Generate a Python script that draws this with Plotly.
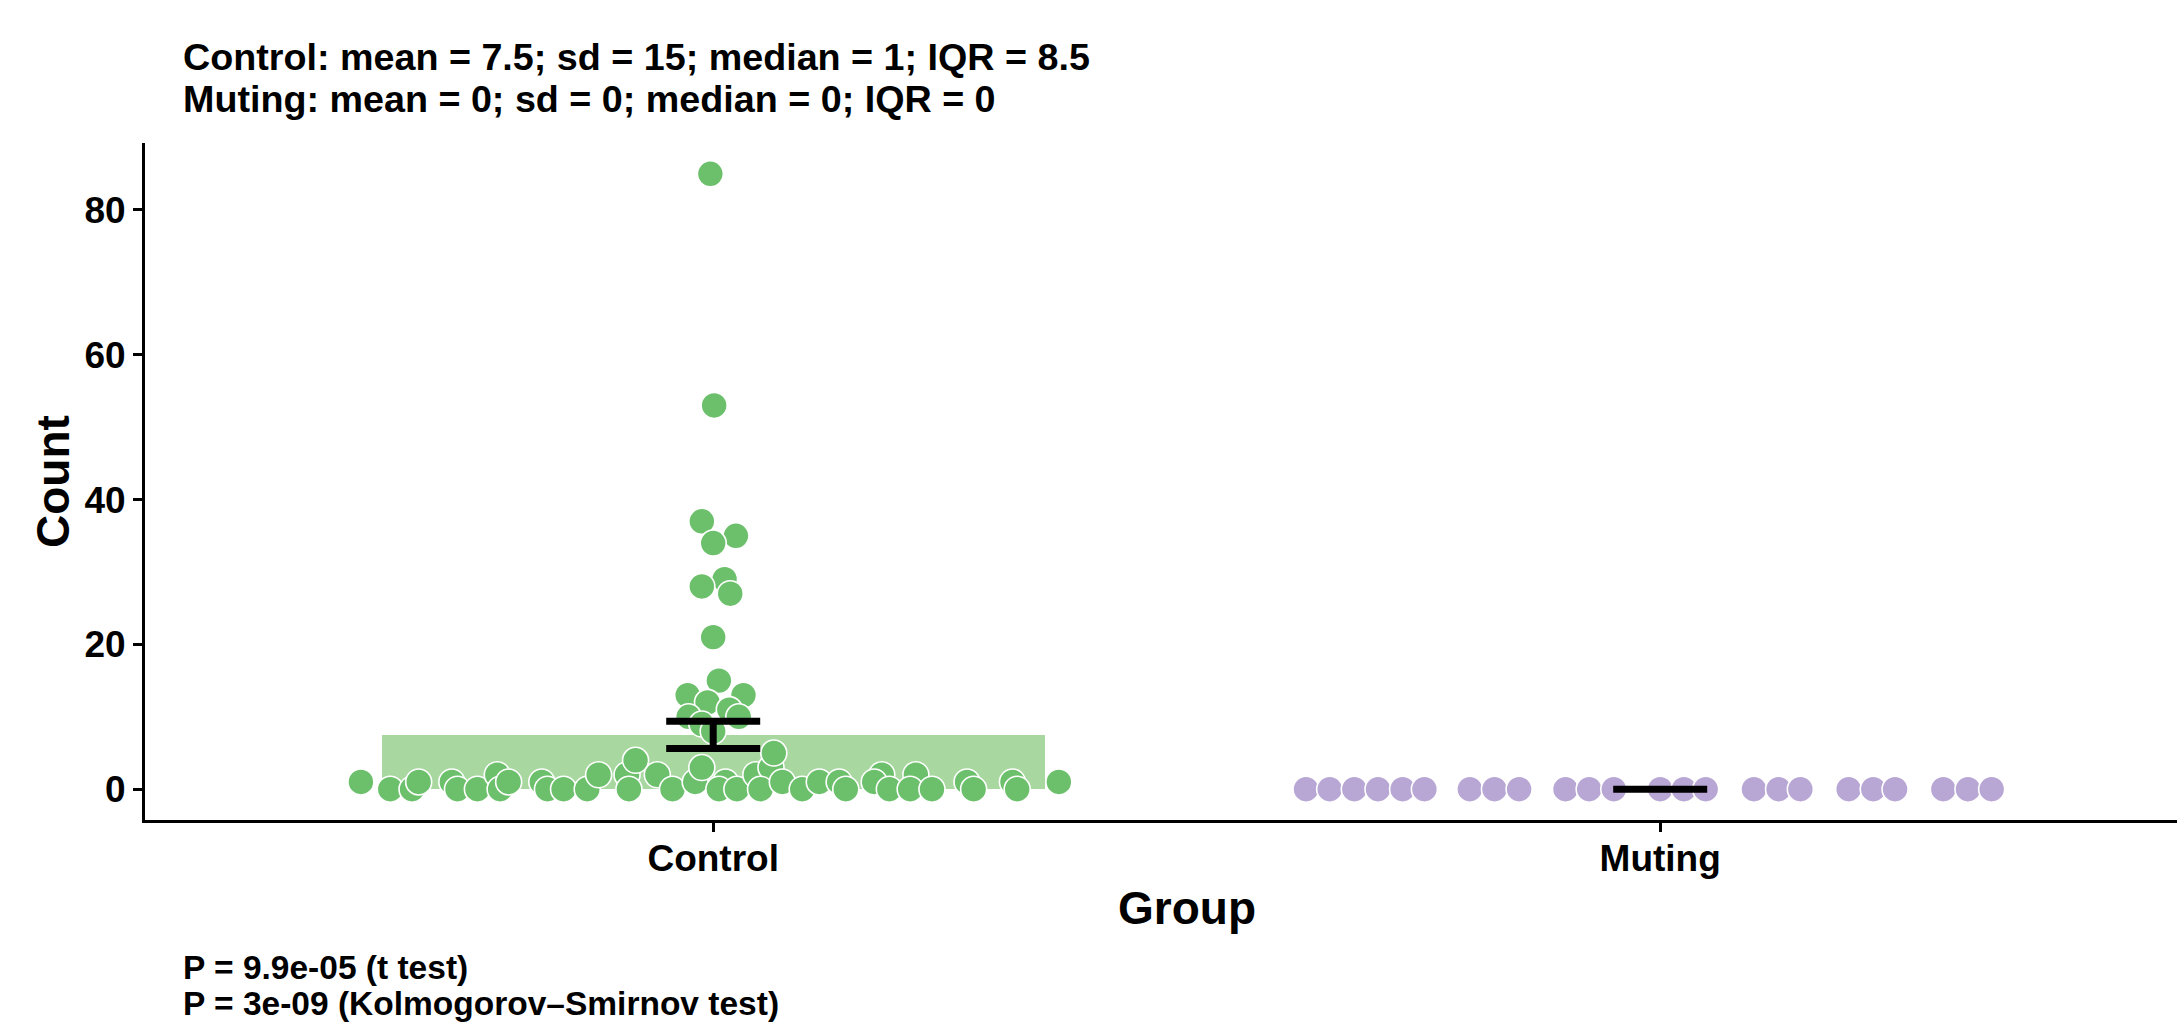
import plotly.graph_objects as go

# ---------------- data ----------------
categories = ["Control", "Muting"]

control_values = [
    85, 53, 37, 35, 34, 29, 28, 27, 21, 15, 13, 13, 12, 11, 10, 10, 9, 8,
    1, 0, 0, 1, 1, 0, 0, 2, 0, 1, 1, 0, 0, 0, 2,
    2, 4, 0, 2, 0, 1, 3, 1, 0, 0, 2, 3, 5, 0, 1, 0, 1, 1,
    0, 2, 1, 0, 2, 0, 0, 1, 0, 1, 0, 1,
]
control_jitter = [
    -0.003, 0.001, -0.012, 0.024, 0.000, 0.012, -0.012, 0.018, 0.000, 0.006,
    -0.027, 0.032, -0.006, 0.017, -0.026, 0.027, -0.012, 0.000,
    -0.372, -0.341, -0.318, -0.311, -0.276, -0.270, -0.249, -0.228, -0.225,
    -0.216, -0.181, -0.175, -0.158, -0.133, -0.121,
    -0.091, -0.082, -0.089, -0.059, -0.043, -0.019, -0.012, 0.013, 0.006,
    0.025, 0.045, 0.061, 0.064, 0.050, 0.073, 0.094, 0.112, 0.133,
    0.140, 0.178, 0.170, 0.186, 0.214, 0.208, 0.231, 0.268, 0.275, 0.316,
    0.321, 0.365,
]

muting_values = [0, 0, 0, 0, 0, 0, 0, 0, 0, 0, 0, 0,
                 0, 0, 0, 0, 0, 0, 0, 0, 0, 0, 0, 0]
muting_jitter = [
    -0.374, -0.349, -0.323, -0.298, -0.272, -0.249,
    -0.201, -0.175, -0.149,
    -0.100, -0.075, -0.049,
    0.000, 0.025, 0.048,
    0.099, 0.125, 0.148,
    0.199, 0.225, 0.248,
    0.299, 0.325, 0.350,
]

group_means = [7.5, 0]
group_sem = [1.89, 0]

y_ticks = [0, 20, 40, 60, 80]

title_lines = [
    "Control: mean = 7.5; sd = 15; median = 1; IQR = 8.5",
    "Muting: mean = 0; sd = 0; median = 0; IQR = 0",
]
footer_lines = [
    "P = 9.9e-05 (t test)",
    "P = 3e-09 (Kolmogorov\u2013Smirnov test)",
]

# ---------------- style ----------------
W, H = 2177, 1024
ML, MR, MT, MB = 145, 0, 143, 204
UNIT = 947.0
PW = W - ML - MR
PH = H - MT - MB
x_range = [0.4, 0.4 + PW / UNIT]
y_range = [-4.25, 89.25]

FONT = "Liberation Sans"
GREEN = "rgb(108,192,108)"
GREEN_BAR = "rgb(168,216,160)"
PURPLE = "rgb(184,167,213)"


def px_x(px):
    return (px - ML) / PW


def px_y(py):
    return (H - MB - py) / PH


fig = go.Figure()

# mean bars
fig.add_trace(go.Bar(
    x=[1, 2], y=group_means, width=0.7,
    marker=dict(color=[GREEN_BAR, "rgb(215,205,232)"], line=dict(width=0)),
    showlegend=False, hoverinfo="skip",
))

# points
fig.add_trace(go.Scatter(
    x=[1 + j for j in control_jitter], y=control_values, mode="markers",
    marker=dict(size=26, color=GREEN, line=dict(color="white", width=1.6)),
    showlegend=False,
))
fig.add_trace(go.Scatter(
    x=[2 + j for j in muting_jitter], y=muting_values, mode="markers",
    marker=dict(size=26, color=PURPLE, line=dict(color="white", width=1.6)),
    showlegend=False, cliponaxis=False,
))

# mean +/- SEM error bars
fig.add_trace(go.Scatter(
    x=[1, 2], y=group_means, mode="markers",
    marker=dict(size=1, opacity=0),
    error_y=dict(type="data", array=group_sem, visible=True,
                 width=47, thickness=7, color="black"),
    showlegend=False, hoverinfo="skip",
))

annotations = []
for line, py in zip(title_lines, [57, 99]):
    annotations.append(dict(
        text=line, x=px_x(181), y=px_y(py), xref="paper", yref="paper",
        xanchor="left", yanchor="middle", showarrow=False,
        font=dict(family=FONT, size=37.7, color="black", weight="bold"),
    ))
for line, py in zip(footer_lines, [967, 1003]):
    annotations.append(dict(
        text=line, x=px_x(181), y=px_y(py), xref="paper", yref="paper",
        xanchor="left", yanchor="middle", showarrow=False,
        font=dict(family=FONT, size=33.5, color="black", weight="bold"),
    ))
annotations.append(dict(
    text="Count", x=px_x(53), y=px_y(482), xref="paper", yref="paper",
    xanchor="center", yanchor="middle", textangle=-90, showarrow=False,
    font=dict(family=FONT, size=46, color="black", weight="bold"),
))
annotations.append(dict(
    text="Group", x=px_x(1187), y=px_y(908), xref="paper", yref="paper",
    xanchor="center", yanchor="middle", showarrow=False,
    font=dict(family=FONT, size=46, color="black", weight="bold"),
))

fig.update_layout(
    width=W, height=H,
    margin=dict(l=ML, r=MR, t=MT, b=MB, pad=0),
    paper_bgcolor="white", plot_bgcolor="white",
    bargap=0, showlegend=False,
    font=dict(family=FONT, color="black"),
    annotations=annotations,
    xaxis=dict(
        range=x_range, tickvals=[1, 2], ticktext=categories,
        showgrid=False, zeroline=False,
        showline=True, linecolor="black", linewidth=3,
        ticks="outside", ticklen=9, tickwidth=2.5, tickcolor="black",
        ticklabelstandoff=-5,
        tickfont=dict(family=FONT, size=37, color="black", weight="bold"),
    ),
    yaxis=dict(
        range=y_range, tickvals=y_ticks,
        showgrid=False, zeroline=False,
        showline=True, linecolor="black", linewidth=3,
        ticks="outside", ticklen=9, tickwidth=2.5, tickcolor="black",
        tickfont=dict(family=FONT, size=37, color="black", weight="bold"),
    ),
)

fig.write_html(
    "out.html",
    config={"displayModeBar": False},
    post_script="document.body.style.margin='0';document.body.style.overflow='hidden';",
)
